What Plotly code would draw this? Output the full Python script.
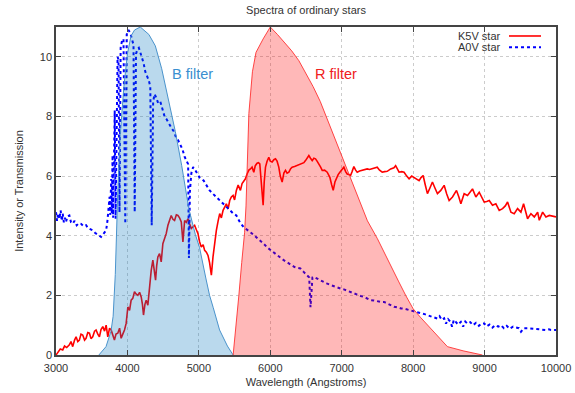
import plotly.graph_objects as go

# ---------------- data ----------------
k5v_wl = [3000, 3030, 3060, 3094, 3120, 3150, 3187, 3210, 3234, 3260, 3281, 3305, 3327, 3350, 3374, 3400,
          3421, 3445, 3468, 3490, 3514, 3540, 3561, 3585, 3608, 3630, 3655, 3680, 3702, 3725, 3750, 3772,
          3795, 3818, 3840, 3865, 3890, 3912, 3935, 3959, 3982, 4006, 4030, 4052, 4075, 4099, 4120, 4146,
          4170, 4193, 4210, 4225, 4245, 4263, 4286, 4310, 4333, 4356, 4375, 4394, 4410, 4426, 4450, 4473,
          4496, 4520, 4543, 4567, 4590, 4613, 4637, 4660, 4685, 4707, 4730, 4754, 4777, 4801, 4825, 4847,
          4870, 4894, 4918, 4941, 4965, 4988, 5010, 5034, 5060, 5081, 5105, 5128, 5150, 5175, 5198, 5220,
          5245, 5270, 5292, 5315, 5339, 5360, 5385, 5410, 5432, 5455, 5479, 5500, 5525, 5550, 5582, 5605,
          5628, 5650, 5675, 5700, 5722, 5745, 5769, 5790, 5815, 5835, 5853, 5875, 5900, 5915, 5933, 5955,
          5979, 6000, 6026, 6050, 6073, 6095, 6119, 6140, 6166, 6190, 6213, 6235, 6260, 6285, 6306, 6340,
          6376, 6410, 6446, 6470, 6493, 6515, 6540, 6563, 6587, 6610, 6633, 6655, 6680, 6705, 6727, 6760,
          6797, 6815, 6834, 6860, 6881, 6905, 6927, 6950, 6974, 7000, 7030, 7055, 7077, 7100, 7124, 7145,
          7170, 7195, 7217, 7250, 7287, 7320, 7357, 7390, 7427, 7460, 7497, 7530, 7567, 7600, 7637, 7686,
          7731, 7755, 7780, 7803, 7840, 7873, 7910, 7943, 7980, 8013, 8050, 8083, 8110, 8140, 8170, 8200,
          8235, 8270, 8305, 8340, 8387, 8434, 8470, 8504, 8551, 8607, 8640, 8668, 8714, 8761, 8831, 8878,
          8925, 8960, 8995, 9030, 9065, 9111, 9158, 9205, 9252, 9290, 9322, 9369, 9415, 9462, 9509, 9546,
          9575, 9602, 9649, 9696, 9743, 9766, 9813, 9859, 9906, 9950, 10000]
k5v_val = [0.0, 0.1, 0.2, 0.17, 0.3, 0.25, 0.34, 0.45, 0.28, 0.5, 0.61, 0.45, 0.5, 0.7, 0.67, 0.5,
           0.56, 0.75, 0.73, 0.55, 0.61, 0.8, 0.84, 0.7, 0.61, 0.85, 0.95, 0.8, 1.0, 0.61, 0.9, 0.84,
           0.65, 0.5, 0.7, 0.73, 0.9, 0.56, 0.7, 0.84, 1.06, 1.61, 1.5, 1.84, 1.9, 2.12, 2.05, 2.0,
           2.1, 1.95, 1.7, 1.34, 1.7, 1.84, 1.67, 2.4, 2.84, 3.18, 2.9, 2.51, 3.0, 3.29, 3.4, 3.12,
           3.73, 3.9, 4.07, 4.35, 4.5, 4.68, 4.55, 4.51, 4.7, 4.68, 4.6, 4.46, 3.79, 4.51, 4.45, 4.57,
           4.4, 4.24, 4.3, 4.35, 4.2, 4.07, 3.8, 3.62, 3.7, 3.51, 3.45, 3.34, 3.1, 2.68, 3.29, 3.8,
           4.18, 4.5, 4.74, 4.6, 4.85, 4.95, 5.07, 4.9, 5.18, 5.3, 5.35, 5.2, 5.52, 5.7, 5.52, 5.75,
           5.85, 5.9, 6.07, 6.2, 6.24, 6.3, 6.13, 6.35, 6.43, 6.45, 6.41, 5.8, 5.02, 5.8, 6.3, 6.5,
           6.63, 6.5, 6.47, 6.55, 6.58, 6.5, 6.3, 6.0, 5.8, 6.1, 6.19, 6.1, 6.13, 6.25, 6.3, 6.32,
           6.35, 6.38, 6.41, 6.45, 6.52, 6.6, 6.69, 6.6, 6.52, 6.6, 6.58, 6.5, 6.41, 6.3, 6.19, 6.2,
           6.13, 6.05, 5.96, 5.7, 5.52, 5.8, 5.96, 6.05, 6.13, 6.2, 6.3, 6.15, 6.07, 6.05, 6.02, 6.15,
           6.32, 6.2, 6.13, 6.17, 6.19, 6.2, 6.24, 6.22, 6.24, 6.27, 6.3, 6.2, 6.13, 6.15, 6.16, 6.24,
           6.28, 6.35, 6.25, 6.13, 6.15, 6.13, 6.0, 5.91, 6.0, 5.96, 5.9, 5.85, 5.95, 6.02, 5.7, 5.41,
           5.6, 5.8, 5.6, 5.41, 5.52, 5.69, 5.4, 5.18, 5.3, 5.52, 5.3, 5.07, 5.41, 5.35, 5.57, 5.3,
           5.46, 5.3, 5.13, 5.15, 5.18, 5.02, 5.07, 4.85, 4.91, 5.0, 5.13, 4.79, 4.74, 4.91, 4.79, 5.07,
           4.8, 4.57, 4.74, 4.63, 4.79, 4.52, 4.79, 4.63, 4.68, 4.65, 4.63]

a0v_wl = [3000, 3015, 3030, 3047, 3065, 3080, 3094, 3110, 3125, 3140, 3160, 3187, 3210, 3234, 3260, 3290,
          3320, 3351, 3385, 3421, 3450, 3480, 3514, 3545, 3575, 3605, 3631, 3660, 3685, 3702, 3720, 3735,
          3750, 3760, 3772, 3780, 3792, 3800, 3812, 3822, 3835, 3850, 3862, 3875, 3889, 3905, 3925, 3945,
          3970, 3990, 4015, 4040, 4065, 4085, 4102, 4120, 4140, 4160, 4180, 4200, 4225, 4250, 4275, 4300,
          4320, 4340, 4360, 4380, 4400, 4430, 4460, 4490, 4520, 4550, 4580, 4620, 4650, 4680, 4710, 4740,
          4770, 4800, 4830, 4850, 4861, 4875, 4895, 4920, 4950, 4980, 5010, 5066, 5110, 5151, 5200, 5250,
          5300, 5346, 5390, 5432, 5480, 5525, 5575, 5627, 5680, 5730, 5780, 5830, 5870, 5908, 5960, 6010,
          6060, 6100, 6150, 6188, 6240, 6290, 6340, 6380, 6422, 6470, 6515, 6545, 6563, 6575, 6590, 6609,
          6660, 6700, 6740, 6790, 6840, 6890, 6940, 6983, 7030, 7080, 7125, 7170, 7220, 7265, 7310, 7360,
          7406, 7450, 7500, 7544, 7592, 7640, 7690, 7732, 7780, 7830, 7880, 7920, 7965, 8010, 8060, 8110,
          8160, 8200, 8250, 8300, 8340, 8370, 8400, 8434, 8460, 8490, 8520, 8545, 8570, 8600, 8630, 8668,
          8700, 8730, 8760, 8800, 8840, 8880, 8920, 8960, 8995, 9030, 9070, 9110, 9150, 9190, 9230, 9270,
          9310, 9350, 9400, 9440, 9480, 9510, 9550, 9600, 9650, 9700, 9750, 9800, 9850, 9900, 9930, 10000]
a0v_val = [4.79, 4.5, 4.75, 4.57, 4.85, 4.5, 4.74, 4.45, 4.6, 4.46, 4.65, 4.68, 4.45, 4.4, 4.5, 4.35,
           4.42, 4.4, 4.32, 4.35, 4.25, 4.22, 4.18, 4.1, 4.05, 4.0, 3.96, 4.05, 4.12, 4.18, 4.5, 4.8,
           5.3, 4.7, 5.9, 4.75, 6.7, 4.6, 7.2, 8.2, 4.57, 9.2, 10.0, 9.9, 4.79, 10.3, 10.55, 10.6,
           4.4, 10.75, 10.9, 10.8, 10.6, 10.4, 4.79, 10.1, 10.25, 10.3, 10.15, 10.0, 9.8, 9.5, 9.35, 9.2,
           9.0, 4.35, 8.5, 8.75, 8.65, 8.45, 8.5, 8.2, 8.0, 7.9, 7.75, 7.6, 7.5, 7.3, 7.2, 7.05,
           6.9, 6.65, 6.5, 6.4, 3.25, 5.5, 6.1, 6.3, 6.2, 6.05, 5.95, 5.85, 5.7, 5.52, 5.4, 5.28,
           5.15, 5.07, 4.95, 4.85, 4.75, 4.68, 4.45, 4.29, 4.2, 4.1, 4.0, 3.9, 3.8, 3.73, 3.6, 3.5,
           3.42, 3.35, 3.25, 3.18, 3.1, 3.02, 2.95, 2.92, 2.9, 2.78, 2.68, 2.6, 1.6, 2.3, 2.6, 2.62,
           2.55, 2.5, 2.45, 2.4, 2.35, 2.3, 2.26, 2.23, 2.2, 2.15, 2.12, 2.07, 2.03, 1.98, 1.95, 1.9,
           1.84, 1.83, 1.8, 1.78, 1.78, 1.72, 1.66, 1.62, 1.6, 1.56, 1.55, 1.52, 1.5, 1.45, 1.42, 1.4,
           1.37, 1.34, 1.3, 1.27, 1.22, 1.3, 1.18, 1.23, 1.05, 1.2, 1.12, 0.95, 1.18, 1.1, 1.02, 1.11,
           0.95, 1.12, 1.05, 1.1, 1.0, 1.08, 0.98, 1.06, 1.06, 0.96, 1.02, 0.92, 1.0, 0.95, 1.0, 0.9,
           0.98, 0.88, 0.95, 0.92, 0.9, 0.78, 0.9, 0.9, 0.89, 0.88, 0.86, 0.87, 0.84, 0.86, 0.84, 0.84]

b_wl = [3600, 3700, 3770, 3800, 3830, 3850, 3865, 3900, 3950, 4000, 4050, 4100, 4180, 4300, 4390,
        4480, 4580, 4670, 4760, 4860, 4950, 5010, 5100, 5150, 5200, 5290, 5400, 5480]
b_tr = [0.0, 0.28, 0.8, 1.3, 2.7, 4.4, 5.5, 7.4, 9.0, 10.1, 10.7, 10.9, 11.0, 10.75, 10.37,
        9.6, 8.55, 7.5, 6.35, 4.9, 4.05, 3.6, 2.55, 2.0, 1.6, 0.84, 0.3, 0.0]

r_wl = [5480, 5520, 5560, 5600, 5640, 5660, 5675, 5700, 5750, 5800, 5900, 6000, 6100, 6200, 6300,
        6400, 6500, 6600, 6700, 6800, 6900, 7000, 7100, 7200, 7300, 7360, 7500, 7600, 7700, 7800,
        7900, 8000, 8100, 8200, 8300, 8400, 8480, 8700, 8970]
r_tr = [0.0, 0.9, 2.0, 3.1, 4.1, 5.0, 6.5, 8.1, 9.5, 10.15, 10.6, 11.0, 10.75, 10.47, 10.2,
        9.87, 9.45, 9.0, 8.5, 7.9, 7.3, 6.7, 6.1, 5.5, 4.85, 4.5, 3.9, 3.4, 2.9, 2.45,
        1.98, 1.55, 1.27, 1.0, 0.75, 0.48, 0.28, 0.14, 0.0]

series_names = ["K5V star", "A0V star"]
filter_labels = ["B filter", "R filter"]
filter_label_pos = [(4908, 9.42), (6920, 9.42)]

FONT = "Liberation Sans, Arial, sans-serif"
TXT = "#333333"

fig = go.Figure()
fig.add_trace(go.Scatter(x=k5v_wl, y=k5v_val, mode="lines", name=series_names[0],
                         line=dict(color="#ff0000", width=1.6), showlegend=False))
fig.add_trace(go.Scatter(x=a0v_wl, y=a0v_val, mode="lines", name=series_names[1],
                         line=dict(color="#0000ff", width=2, dash="dot"), showlegend=False))
fig.add_trace(go.Scatter(x=b_wl, y=b_tr, mode="lines", fill="tozeroy",
                         fillcolor="rgba(0,114,189,0.27)",
                         line=dict(color="#4a93cc", width=1), showlegend=False))
fig.add_trace(go.Scatter(x=r_wl, y=r_tr, mode="lines", fill="tozeroy",
                         fillcolor="rgba(255,0,0,0.28)",
                         line=dict(color="rgba(255,40,40,0.85)", width=1), showlegend=False))

# filter labels
fig.add_annotation(x=filter_label_pos[0][0], y=filter_label_pos[0][1], text=filter_labels[0],
                   showarrow=False, font=dict(family=FONT, size=14.5, color="#3a8fd0"))
fig.add_annotation(x=filter_label_pos[1][0], y=filter_label_pos[1][1], text=filter_labels[1],
                   showarrow=False, font=dict(family=FONT, size=14.5, color="#f02020"))

# gnuplot-style key (text then sample) at top right
key_y = [0.9726, 0.938]
for name, yy, col, dash in [(series_names[0], key_y[0], "#ff0000", "solid"),
                            (series_names[1], key_y[1], "#0000ff", "dot")]:
    fig.add_annotation(xref="paper", yref="paper", x=0.894, y=yy, text=name, showarrow=False,
                       xanchor="right", yanchor="middle", font=dict(family=FONT, size=11, color=TXT))
    fig.add_shape(type="line", xref="paper", yref="paper", x0=0.906, x1=0.97, y0=yy, y1=yy,
                  line=dict(color=col, width=2 if dash == "dot" else 1.6, dash=dash))

axis_common = dict(showline=True, linecolor="#444444", linewidth=1.5, mirror="allticks",
                   ticks="inside", ticklen=5, tickcolor="#444444", showgrid=True,
                   gridcolor="#cccccc", griddash="dot", gridwidth=1, zeroline=False,
                   tickfont=dict(family=FONT, size=11, color=TXT))

fig.update_layout(
    width=575, height=393,
    margin=dict(l=56, r=19, t=27, b=38),
    paper_bgcolor="white", plot_bgcolor="white",
    title=dict(text="Spectra of ordinary stars", x=0.5, xref="paper", y=1 - 10 / 393,
               yanchor="middle", font=dict(family=FONT, size=11, color=TXT)),
    xaxis=dict(range=[3000, 10000], dtick=1000, tick0=3000, tickformat="d", ticklabelstandoff=2,
               title=dict(text="Wavelength (Angstroms)", standoff=5,
                          font=dict(family=FONT, size=11, color=TXT)),
               automargin=False, **axis_common),
    yaxis=dict(range=[0, 11], dtick=2, tick0=0, tickformat="d",
               title=dict(text="Intensity or Transmission", standoff=14,
                          font=dict(family=FONT, size=11, color=TXT)),
               automargin=False, **axis_common),
)

fig.write_html("out.html")
